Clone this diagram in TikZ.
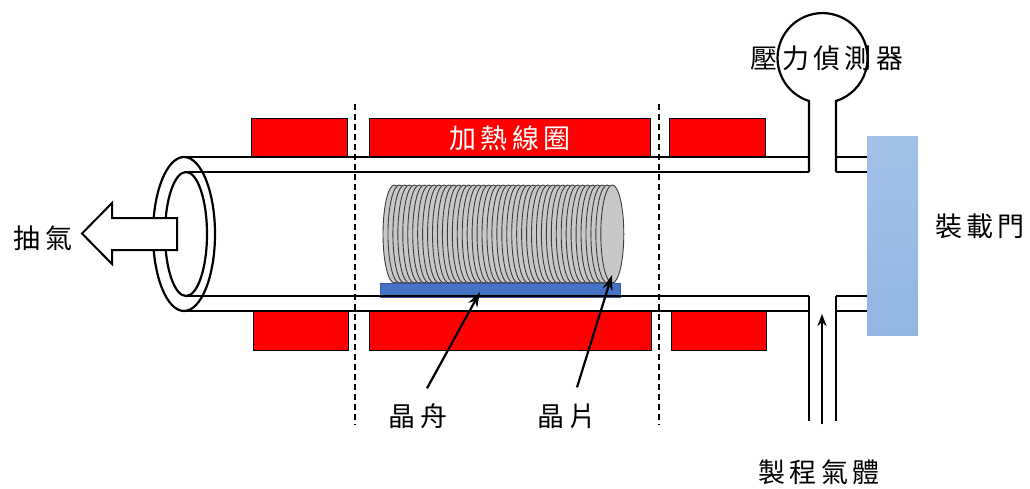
\documentclass[tikz,border=0pt]{standalone}
\usepackage{fontspec}
\newfontfamily\cjk[LetterSpace=16]{Noto Sans CJK TC}
\usetikzlibrary{arrows.meta}
\definecolor{doorblue}{RGB}{162,194,231}
\definecolor{doorblueb}{RGB}{146,181,226}
\definecolor{waferfill}{RGB}{200,200,200}
\definecolor{waferedge}{RGB}{60,60,60}
\definecolor{boatblue}{RGB}{68,114,196}
\begin{document}
\begin{tikzpicture}[x=1pt,y=-1pt,
  heater/.style={fill=red,draw=black,line width=1pt,inner sep=0pt,
    minimum height=39pt,anchor=north west},
  wall/.style={line width=2.2pt},
  zone/.style={line width=2pt,dash pattern=on 6pt off 4pt},
  lbl/.style={font=\cjk\fontsize{27}{30}\selectfont,inner sep=0pt},
  pointer/.style={line width=2.2pt,-{Stealth[length=15pt,width=10pt]}}]
\useasboundingbox (0,0) rectangle (1030,488);

% heating coil blocks above and below the tube
\node[heater,minimum width=96pt]  (htl) at (251,118) {};
\node[heater,minimum width=281pt,text=white,font=\cjk\fontsize{27}{30}\selectfont] (htm) at (369,118) {加熱線圈};
\node[heater,minimum width=96pt]  (htr) at (669,118) {};
\node[heater,minimum width=95pt]  (hbl) at (253,311) {};
\node[heater,minimum width=282pt] (hbm) at (369,311) {};
\node[heater,minimum width=95pt]  (hbr) at (671,311) {};

% wafer boat and wafers
\node[fill=boatblue,draw=boatblue!80!black,line width=0.6pt,inner sep=0pt,
  minimum width=240pt,minimum height=14pt,anchor=north west] (boat) at (380,283) {};
\foreach \i in {0,...,44}{
  \draw[fill=waferfill,draw=waferedge,line width=0.9pt]
    (394.5+\i*4.95,234) ellipse[x radius=11.5,y radius=49];
}
\coordinate (boattip) at (480,292);
\coordinate (wafertip) at (612,275);

% quartz tube walls
\draw[wall] (184,157) -- (809,157);
\draw[wall] (186,172) -- (809,172);
\draw[wall] (186,296) -- (809,296);
\draw[wall] (184,311) -- (809,311);
\draw[wall] (184,234) ellipse[x radius=31,y radius=77];
\draw[wall] (186,234) ellipse[x radius=21,y radius=62];

% pressure gauge on the upper port
\draw[wall] (809,172) -- (809,101)
  arc[start angle=107.5,end angle=432.5,radius=45] -- (836,172);
\draw[wall] (836,157) -- (867,157);
\draw[wall] (836,172) -- (867,172);

% process gas inlet on the lower port
\draw[wall] (809,296) -- (809,421);
\draw[wall] (836,296) -- (836,421);
\draw[wall] (836,296) -- (867,296);
\draw[wall] (836,311) -- (867,311);
\coordinate (gasin) at (822,424);
\coordinate (gasout) at (822,314);
\draw[line width=2pt,-{Stealth[length=12pt,width=9pt]}] (gasin) -- (gasout);

% loading door
\node[inner sep=0pt,minimum width=51pt,minimum height=199pt,anchor=north west,
  top color=doorblue,bottom color=doorblueb,draw=none] (door) at (867,136) {};

% heating zone boundaries
\draw[zone] (355,104) -- (355,425);
\draw[zone] (659,104) -- (659,425);

% exhaust arrow
\draw[fill=white,line width=2pt,line join=miter]
  (177,218) -- (112,218) -- (112,203) -- (82,233.5) -- (112,264) -- (112,250) -- (177,250) -- cycle;

% labels
\node[lbl] (pump)   at (43,238)  {抽氣};
\node[lbl] (gauge)  at (827,58)  {壓力偵測器};
\node[lbl] (doorl)  at (980,226) {裝載門};
\node[lbl] (boatl)  at (418,416) {晶舟};
\node[lbl] (waferl) at (567,416) {晶片};
\node[lbl] (gasl)   at (819,472) {製程氣體};

\draw[pointer] ([shift={(9,-15)}]boatl.north) -- (boattip);
\draw[pointer] ([shift={(10,-16)}]waferl.north) -- (wafertip);
\end{tikzpicture}
\end{document}
